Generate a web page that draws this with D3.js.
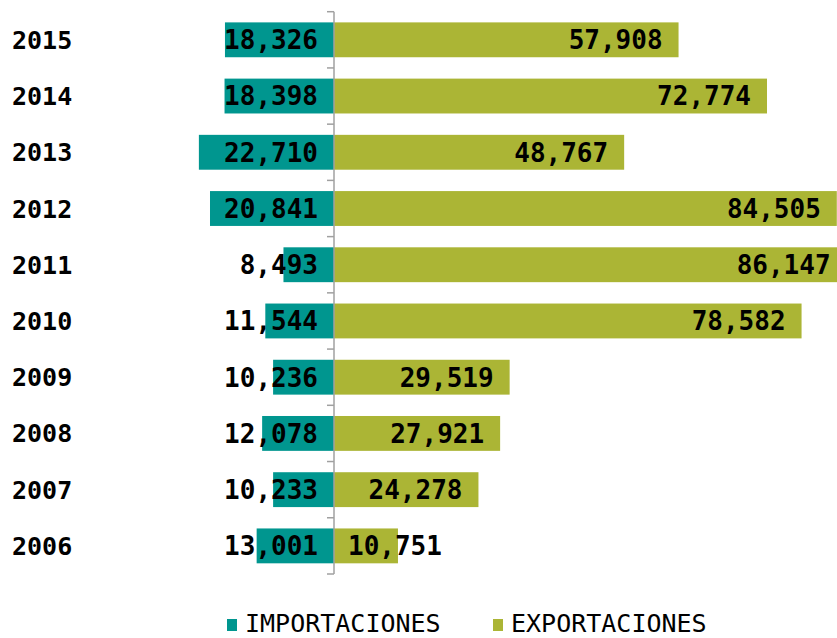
<!DOCTYPE html>
<html>
<head>
<meta charset="utf-8">
<script src="https://cdn.jsdelivr.net/npm/d3@7"></script>
<style>
  body { margin: 0; background: #fff; }
  svg { display: block; }
  .val { font-family: "DejaVu Sans Mono", monospace; font-weight: bold; font-size: 26px; fill: #000; }
  .year { font-family: "DejaVu Sans Mono", monospace; font-weight: bold; font-size: 25px; fill: #000; }
  .leg { font-family: "DejaVu Sans Mono", monospace; font-size: 25px; fill: #000; }
</style>
</head>
<body>
<svg width="837" height="638"></svg>
<script>
document.addEventListener('DOMContentLoaded', function() {
  const years = ['2015', '2014', '2013', '2012', '2011', '2010', '2009', '2008', '2007', '2006'];
  const importaciones = [18326, 18398, 22710, 20841, 8493, 11544, 10236, 12078, 10233, 13001];
  const exportaciones = [57908, 72774, 48767, 84505, 86147, 78582, 29519, 27921, 24278, 10751];
  const seriesNames = ['IMPORTACIONES', 'EXPORTACIONES'];
  const colors = ['#00968f', '#abb535'];

  const width = 837;
  const height = 638;
  const svg = d3.select('svg');
  const zeroX = 334;

  // same scale on both sides of the axis
  const x = d3.scaleLinear().domain([0, 72774]).range([0, 433]);

  const y = d3.scaleBand()
    .domain(years)
    .range([11.7, 574])
    .paddingInner(0.38)
    .paddingOuter(0.19);

  const fmt = d3.format(',');
  const chart = svg.append('g');

  svg.append('clipPath').attr('id', 'clip')
    .append('rect').attr('x', 0).attr('y', 0).attr('width', width).attr('height', height);

  // import bars (to the left)
  chart.selectAll('rect.imp')
    .data(years)
    .enter().append('rect')
    .attr('class', 'imp')
    .attr('x', (d, i) => zeroX - x(importaciones[i]))
    .attr('y', d => y(d))
    .attr('width', (d, i) => x(importaciones[i]))
    .attr('height', y.bandwidth())
    .attr('fill', colors[0]);

  // export bars (to the right)
  chart.selectAll('rect.exp')
    .data(years)
    .enter().append('rect')
    .attr('class', 'exp')
    .attr('x', zeroX)
    .attr('y', d => y(d))
    .attr('width', (d, i) => x(exportaciones[i]))
    .attr('height', y.bandwidth())
    .attr('fill', colors[1])
    .attr('clip-path', 'url(#clip)');

  // axis line with ticks at band edges
  const step = y.step();
  const edges = years.map(d => y(d) - step * 0.19).concat([y(years[years.length - 1]) + y.bandwidth() + step * 0.19]);
  chart.append('line')
    .attr('x1', zeroX).attr('x2', zeroX)
    .attr('y1', edges[0]).attr('y2', edges[edges.length - 1])
    .attr('stroke', '#a0a0a0').attr('stroke-width', 1.5);
  chart.selectAll('line.tick')
    .data(edges)
    .enter().append('line')
    .attr('class', 'tick')
    .attr('x1', zeroX - 7).attr('x2', zeroX)
    .attr('y1', d => d).attr('y2', d => d)
    .attr('stroke', '#a0a0a0').attr('stroke-width', 1.5);

  // year labels
  chart.selectAll('text.year')
    .data(years)
    .enter().append('text')
    .attr('class', 'year')
    .attr('x', 12)
    .attr('y', d => y(d) + y.bandwidth() / 2)
    .attr('dy', '0.36em')
    .text(d => d);

  // import values
  chart.selectAll('text.impv')
    .data(years)
    .enter().append('text')
    .attr('class', 'val')
    .attr('x', zeroX - 16)
    .attr('y', d => y(d) + y.bandwidth() / 2)
    .attr('dy', '0.36em')
    .attr('text-anchor', 'end')
    .text((d, i) => fmt(importaciones[i]));

  // export values, inside end of bar
  chart.selectAll('text.expv')
    .data(years)
    .enter().append('text')
    .attr('class', 'val')
    .attr('y', d => y(d) + y.bandwidth() / 2)
    .attr('dy', '0.36em')
    .attr('text-anchor', 'end')
    .text((d, i) => fmt(exportaciones[i]))
    .attr('x', function(d, i) {
      const w = this.getComputedTextLength();
      return Math.max(zeroX + x(exportaciones[i]) - 16, zeroX + 14 + w);
    });

  // legend
  const legend = svg.append('g');
  const legX = [227, 493];
  seriesNames.forEach((name, i) => {
    legend.append('rect')
      .attr('x', legX[i]).attr('y', 619)
      .attr('width', 10).attr('height', 12)
      .attr('fill', colors[i]);
    legend.append('text')
      .attr('class', 'leg')
      .attr('x', legX[i] + 18)
      .attr('y', 632)
      .text(name);
  });
});
</script>
</body>
</html>
